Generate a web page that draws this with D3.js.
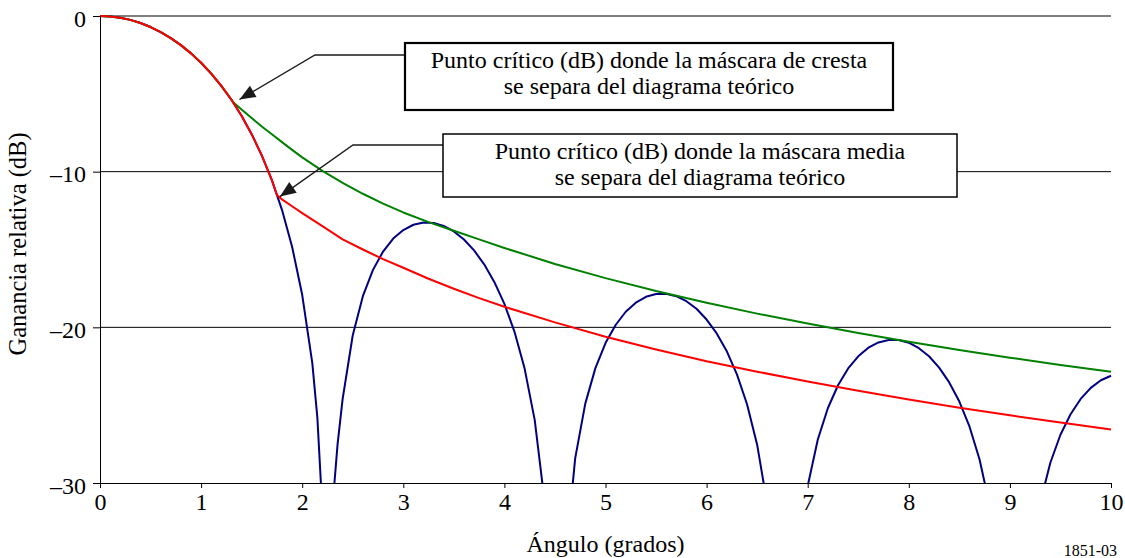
<!DOCTYPE html>
<html>
<head>
<meta charset="utf-8">
<script src="https://cdn.jsdelivr.net/npm/d3@7"></script>
<style>
  html, body { margin: 0; padding: 0; background: #fff; }
  svg { display: block; }
  svg text { font-family: "Liberation Serif", Tinos, "Times New Roman", Times, "DejaVu Serif", serif; fill: #000; }
</style>
</head>
<body>
<svg id="chart" width="1125" height="558"></svg>
<script>
// Axis ticks and labels
const xTicks = [0, 1, 2, 3, 4, 5, 6, 7, 8, 9, 10];
const yTicks = [0, -10, -20, -30];
const gridLevels = [0, -10, -20];
const xTitle = "Ángulo (grados)";
const yTitle = "Ganancia relativa (dB)";
const figureId = "1851-03";

// Theoretical antenna diagram: [angle (deg), relative gain (dB)]
const theoretical = [
  [0, 0], [0.1, -0.03], [0.2, -0.11], [0.3, -0.25], [0.4, -0.45], [0.5, -0.71],
  [0.6, -1.03], [0.7, -1.42], [0.8, -1.87], [0.9, -2.40], [1.0, -3.00],
  [1.1, -3.70], [1.2, -4.49], [1.3, -5.38], [1.4, -6.41], [1.5, -7.59],
  [1.6, -8.95], [1.7, -10.54], [1.8, -12.45], [1.9, -14.82], [2.0, -17.91],
  [2.1, -22.3], [2.15, -25.8], [2.2, -31.8], [2.25, -50], [2.3, -31.5],
  [2.35, -27.5], [2.4, -24.6], [2.5, -20.51], [2.6, -18.00], [2.7, -16.31],
  [2.8, -15.13], [2.9, -14.30], [3.0, -13.75], [3.1, -13.41], [3.2, -13.27],
  [3.3, -13.30], [3.4, -13.49], [3.5, -13.84], [3.6, -14.36], [3.7, -15.06],
  [3.8, -15.95], [3.9, -17.08], [4.0, -18.49], [4.1, -20.29], [4.2, -22.65],
  [4.3, -25.96], [4.4, -31.33], [4.5, -47.1], [4.6, -35.2], [4.7, -28.42],
  [4.8, -24.90], [4.9, -22.62], [5.0, -21.01], [5.1, -19.85], [5.2, -19.00],
  [5.3, -18.42], [5.4, -18.04], [5.5, -17.86], [5.6, -17.85], [5.7, -18.00],
  [5.8, -18.32], [5.9, -18.81], [6.0, -19.50], [6.1, -20.39], [6.2, -21.54],
  [6.3, -23.02], [6.4, -24.94], [6.5, -27.54], [6.6, -31.38], [6.7, -38.5],
  [6.8, -50.6], [6.9, -35.23], [7.0, -30.19], [7.1, -27.21], [7.2, -25.18],
  [7.3, -23.72], [7.4, -22.64], [7.5, -21.86], [7.6, -21.31], [7.7, -20.97],
  [7.8, -20.81], [7.9, -20.81], [8.0, -20.99], [8.1, -21.34], [8.2, -21.86],
  [8.3, -22.59], [8.4, -23.54], [8.5, -24.77], [8.6, -26.37], [8.7, -28.49],
  [8.8, -31.45], [8.9, -36.1], [9.0, -47.1], [9.1, -43.6], [9.2, -35.26],
  [9.3, -31.26], [9.4, -28.70], [9.5, -26.90], [9.6, -25.58], [9.7, -24.60],
  [9.8, -23.89], [9.9, -23.40], [10.0, -23.11]
];

// Crest (peak) mask
const crestMask = [
  [0, 0], [0.1, -0.03], [0.2, -0.11], [0.3, -0.25], [0.4, -0.45], [0.5, -0.71],
  [0.6, -1.03], [0.7, -1.42], [0.8, -1.87], [0.9, -2.40], [1.0, -3.00],
  [1.1, -3.70], [1.2, -4.49], [1.3, -5.38], [1.32, -5.56], [1.4, -6.0],
  [1.5, -6.55], [1.6, -7.1], [1.7, -7.6], [1.8, -8.1], [1.9, -8.6],
  [2.0, -9.08], [2.2, -9.95], [2.4, -10.72], [2.6, -11.42], [2.8, -12.05],
  [3.0, -12.62], [3.25, -13.24], [3.5, -13.8], [3.75, -14.35], [4.0, -14.9],
  [4.5, -15.93], [5.0, -16.84], [5.5, -17.67], [6.0, -18.42], [6.5, -19.12],
  [7.0, -19.76], [7.5, -20.36], [8.0, -20.92], [8.5, -21.45], [9.0, -21.95],
  [9.5, -22.42], [10.0, -22.86]
];

// Mean mask
const meanMask = [
  [0, 0], [0.1, -0.03], [0.2, -0.11], [0.3, -0.25], [0.4, -0.45], [0.5, -0.71],
  [0.6, -1.03], [0.7, -1.42], [0.8, -1.87], [0.9, -2.40], [1.0, -3.00],
  [1.1, -3.70], [1.2, -4.49], [1.3, -5.38], [1.4, -6.41], [1.5, -7.59],
  [1.6, -8.95], [1.7, -10.54], [1.75, -11.5], [1.8, -11.78], [1.9, -12.22],
  [2.0, -12.66], [2.2, -13.5], [2.4, -14.35], [2.6, -15.0], [2.8, -15.62],
  [3.0, -16.17], [3.25, -16.88], [3.5, -17.52], [3.75, -18.12], [4.0, -18.68],
  [4.5, -19.68], [5.0, -20.6], [5.5, -21.42], [6.0, -22.18], [6.5, -22.85],
  [7.0, -23.48], [7.5, -24.08], [8.0, -24.64], [8.5, -25.16], [9.0, -25.65],
  [9.5, -26.12], [10.0, -26.56]
];

// Critical points where each mask leaves the theoretical diagram
const crestCritical = [1.32, -5.56];
const meanCritical = [1.75, -11.5];
const crestNote = ["Punto crítico (dB) donde la máscara de cresta", "se separa del diagrama teórico"];
const meanNote = ["Punto crítico (dB) donde la máscara media", "se separa del diagrama teórico"];

const SERIF = "'Liberation Serif', Tinos, 'Times New Roman', Times, 'DejaVu Serif', serif";
const svg = d3.select("#chart");
const x = d3.scaleLinear().domain([0, 10]).range([100, 1111]);
const y = d3.scaleLinear().domain([-30, 0]).range([483, 16]);
const FONT = 24;

// Horizontal grid lines
svg.append("g").selectAll("line").data(gridLevels).join("line")
  .attr("x1", x(0)).attr("x2", x(10))
  .attr("y1", d => y(d)).attr("y2", d => y(d))
  .attr("stroke", "#000").attr("stroke-width", 1);

// Curves, clipped to the plotting area
svg.append("clipPath").attr("id", "plotClip").append("rect")
  .attr("x", x(0)).attr("y", y(0) - 2)
  .attr("width", x(10) - x(0) + 2).attr("height", y(-30) - y(0) + 2);

const line = d3.line().x(d => x(d[0])).y(d => y(d[1]));
const curves = svg.append("g").attr("clip-path", "url(#plotClip)");
[[theoretical, "#000080"], [crestMask, "#008000"], [meanMask, "#ff0000"]].forEach(([data, color]) => {
  curves.append("path").datum(data)
    .attr("d", line)
    .attr("fill", "none")
    .attr("stroke", color)
    .attr("stroke-width", 2)
    .attr("stroke-linejoin", "round");
});

// Axes
const fmt = d => (d < 0 ? "\u2013" + Math.abs(d) : String(d));
const xAxis = svg.append("g").attr("transform", `translate(0,${y(-30)})`)
  .call(d3.axisBottom(x).tickValues(xTicks).tickSize(5).tickSizeOuter(0).tickPadding(5).tickFormat(fmt));
const yAxis = svg.append("g").attr("transform", `translate(${x(0)},0)`)
  .call(d3.axisLeft(y).tickValues(yTicks).tickSize(7).tickSizeOuter(0).tickPadding(7).tickFormat(fmt));
[xAxis, yAxis].forEach(g => {
  g.attr("font-family", SERIF).attr("font-size", FONT);
  g.selectAll("path, line").attr("stroke", "#000").attr("stroke-width", 1);
  g.selectAll("text").style("font-family", SERIF).style("font-size", FONT + "px").attr("fill", "#000");
});
yAxis.selectAll("text").attr("dy", "0.43em");

// Axis titles
svg.append("text").attr("x", (x(0) + x(10)) / 2).attr("y", 552)
  .attr("text-anchor", "middle").style("font-size", FONT + "px").text(xTitle);
svg.append("text").attr("transform", "translate(26,244) rotate(-90)")
  .attr("text-anchor", "middle").style("font-size", "24.5px").text(yTitle);
svg.append("text").attr("x", 1117).attr("y", 556)
  .attr("text-anchor", "end").style("font-size", "16px").text(figureId);

// Callouts: leader line with arrowhead, then boxed note
function callout(point, tipOffset, elbow, box, lines, boxStroke) {
  const tip = [x(point[0]) + tipOffset[0], y(point[1]) + tipOffset[1]];
  const g = svg.append("g");
  g.append("path")
    .attr("d", `M${box.x},${elbow[1]}H${elbow[0]}L${tip[0]},${tip[1]}`)
    .attr("fill", "none").attr("stroke", "#1a1a1a").attr("stroke-width", 1.3);
  const dx = tip[0] - elbow[0], dy = tip[1] - elbow[1];
  const len = Math.hypot(dx, dy), ux = dx / len, uy = dy / len;
  const bx = tip[0] - 16 * ux, by = tip[1] - 16 * uy;
  g.append("path")
    .attr("d", `M${tip[0]},${tip[1]}L${bx - 6.5 * uy},${by + 6.5 * ux}L${bx + 6.5 * uy},${by - 6.5 * ux}Z`)
    .attr("fill", "#1a1a1a");
  g.append("rect").attr("x", box.x).attr("y", box.y).attr("width", box.w).attr("height", box.h)
    .attr("fill", "#fff").attr("stroke", "#000").attr("stroke-width", boxStroke);
  lines.forEach((t, i) => {
    g.append("text").attr("x", box.x + box.w / 2).attr("y", box.y + box.base + i * 25.5)
      .attr("text-anchor", "middle").style("font-size", FONT + "px").text(t);
  });
}

callout(crestCritical, [6, -3], [315, 55], { x: 405, y: 43, w: 488, h: 67, base: 25 }, crestNote, 2.2);
callout(meanCritical, [3, 1.6], [353, 145], { x: 443, y: 134, w: 514, h: 63, base: 25 }, meanNote, 1.5);
</script>
</body>
</html>
